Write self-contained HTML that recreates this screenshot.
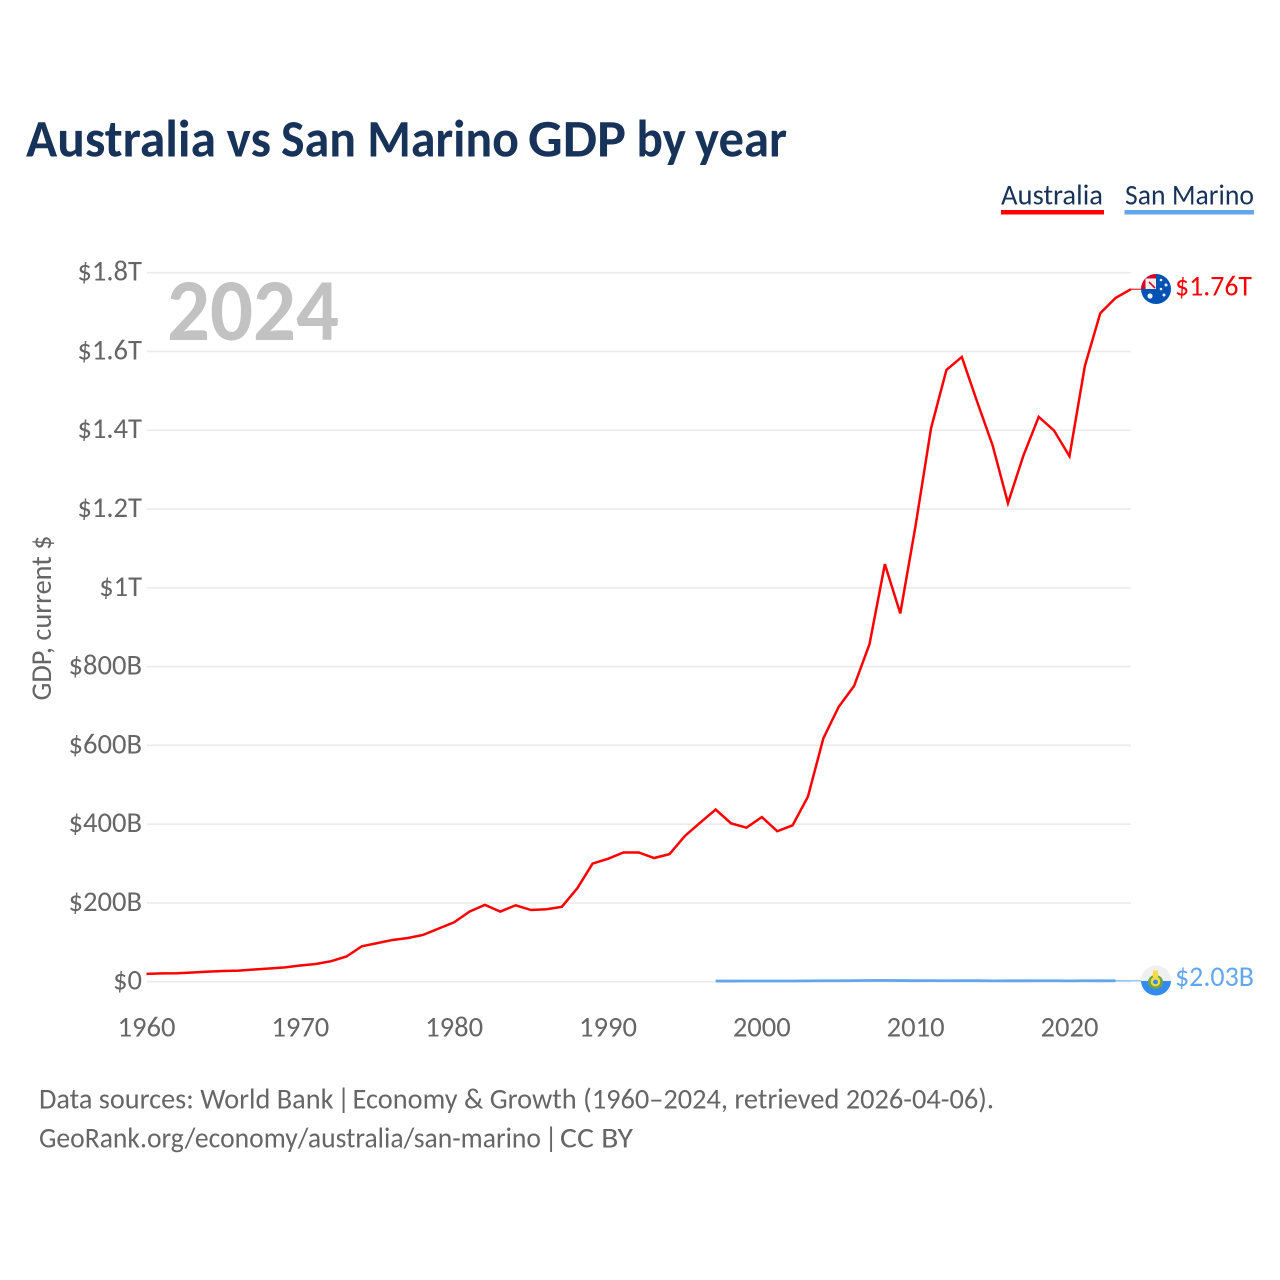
<!DOCTYPE html>
<html lang="en">
<head>
<meta charset="utf-8">
<title>Australia vs San Marino GDP by year</title>
<style>
  html, body { margin: 0; padding: 0; background: #fff; }
  svg { display: block; }
  text { font-family: "Carlito", "Lato", "Liberation Sans", sans-serif; }
</style>
</head>
<body>
<svg id="chart" xmlns="http://www.w3.org/2000/svg" width="1280" height="1280" viewBox="0 0 1280 1280">
  <defs>
    <clipPath id="flag-au-clip"><circle cx="1156" cy="289" r="15"/></clipPath>
    <clipPath id="flag-sm-clip"><circle cx="1156" cy="980.5" r="15"/></clipPath>
  </defs>

  <text y="156.5" font-size="52.7" font-weight="700" fill="#18335a"><tspan x="26" textLength="190" lengthAdjust="spacingAndGlyphs">Australia</tspan> <tspan x="226.5" textLength="44.5" lengthAdjust="spacingAndGlyphs">vs</tspan> <tspan x="281" textLength="238" lengthAdjust="spacingAndGlyphs">San Marino</tspan> <tspan x="528" textLength="98" lengthAdjust="spacingAndGlyphs">GDP</tspan> <tspan x="636.5" textLength="49.5" lengthAdjust="spacingAndGlyphs">by</tspan> <tspan x="695" textLength="92" lengthAdjust="spacingAndGlyphs">year</tspan></text>

  <g>
    <g>
      <text x="1001" y="204.5" font-size="28.6" fill="#18335a" textLength="102" lengthAdjust="spacingAndGlyphs">Australia</text>
      <rect x="1001" y="210" width="103" height="4.5" fill="#ff0000"/>
    </g>
    <g>
      <text x="1125" y="204.5" font-size="28.6" fill="#18335a" textLength="129" lengthAdjust="spacingAndGlyphs">San Marino</text>
      <rect x="1124.5" y="210" width="129.5" height="4.5" fill="#62a7ec"/>
    </g>
  </g>

  <g id="grid"></g>
  <g id="y-ticks"></g>
  <g id="x-ticks"></g>

  <text x="167" y="340" font-size="88" font-weight="700" fill="#c2c2c2" textLength="172" lengthAdjust="spacingAndGlyphs">2024</text>

  <text transform="translate(51,618) rotate(-90)" text-anchor="middle" font-size="28.6" fill="#666666" textLength="165" lengthAdjust="spacingAndGlyphs">GDP, current $</text>

  <g id="series"></g>

  <g clip-path="url(#flag-au-clip)">
    <rect x="1141" y="274" width="30" height="30" fill="#0052b4"/>
    <rect x="1141" y="274" width="15" height="15" fill="#f0f0f0"/>
    <path d="M1141 274h15v4.5h-10.5v10.5h-4.5z" fill="#d80027"/>
    <path d="M1149 282l6 6" stroke="#d80027" stroke-width="1.6" fill="none"/>
    <circle cx="1150" cy="296" r="2.6" fill="#f0f0f0"/>
    <circle cx="1161" cy="280" r="1.3" fill="#f0f0f0"/>
    <circle cx="1166" cy="285" r="1.5" fill="#f0f0f0"/>
    <circle cx="1161" cy="289" r="1.3" fill="#f0f0f0"/>
    <circle cx="1164" cy="295" r="1.5" fill="#f0f0f0"/>
  </g>
  <g clip-path="url(#flag-sm-clip)">
    <rect x="1141" y="965" width="30" height="16" fill="#f0f0f0"/>
    <rect x="1141" y="981" width="30" height="16" fill="#338af3"/>
    <ellipse cx="1155.5" cy="982" rx="7.5" ry="7" fill="#6da544"/>
    <ellipse cx="1155.5" cy="981.5" rx="4.8" ry="5" fill="#ffda44"/>
    <circle cx="1155.5" cy="982" r="2.4" fill="#338af3"/>
    <rect x="1153" y="970.5" width="5" height="6.5" fill="#ffda44"/>
  </g>

  <text id="label-au" x="1175" y="295.5" font-size="28.6" fill="#ff0000" textLength="77" lengthAdjust="spacingAndGlyphs"></text>
  <text id="label-sm" x="1175" y="986" font-size="28.6" fill="#62a7ec" textLength="79" lengthAdjust="spacingAndGlyphs"></text>

  <g>
    <text y="1108.5" font-size="28.6" fill="#666666"><tspan x="39" textLength="294.5" lengthAdjust="spacingAndGlyphs">Data sources: World Bank</tspan> <tspan x="337">|</tspan> <tspan x="352.5" textLength="641.5" lengthAdjust="spacingAndGlyphs">Economy &amp; Growth (1960–2024, retrieved 2026-04-06).</tspan></text>
    <text y="1147.5" font-size="28.6" fill="#666666"><tspan x="39" textLength="502" lengthAdjust="spacingAndGlyphs">GeoRank.org/economy/australia/san-marino</tspan> <tspan x="544.5">|</tspan> <tspan x="560" textLength="73" lengthAdjust="spacingAndGlyphs">CC BY</tspan></text>
  </g>
</svg>

<script>
const australiaYears = [1960,1961,1962,1963,1964,1965,1966,1967,1968,1969,1970,1971,1972,1973,1974,1975,1976,1977,1978,1979,1980,1981,1982,1983,1984,1985,1986,1987,1988,1989,1990,1991,1992,1993,1994,1995,1996,1997,1998,1999,2000,2001,2002,2003,2004,2005,2006,2007,2008,2009,2010,2011,2012,2013,2014,2015,2016,2017,2018,2019,2020,2021,2022,2023,2024];
const australiaGdpBillions = [20,21,21.5,23.5,25.5,27,28,31,33.5,36.5,41,45,52,64,90,98,106,111,119,135,151,178,195,178,194,182,184,190,237,300,312,328,328,314,324,370,404,437,402,391,418,382,397,470,618,698,751,857,1060,935,1159,1405,1553,1586,1472,1362,1215,1335,1434,1399,1334,1563,1697,1736,1758];
const sanMarinoYears = [1997,1998,1999,2000,2001,2002,2003,2004,2005,2006,2007,2008,2009,2010,2011,2012,2013,2014,2015,2016,2017,2018,2019,2020,2021,2022,2023,2024];
const sanMarinoGdpBillions = [1.6,1.6,1.7,1.7,1.8,1.8,2.0,2.4,2.5,2.7,3.0,3.2,2.9,2.6,2.7,2.5,2.6,2.6,2.1,2.2,2.2,2.5,2.5,2.1,2.4,2.3,2.4,2.03];
const yTickValues = [0,200,400,600,800,1000,1200,1400,1600,1800];
const yTickLabels = ["$0","$200B","$400B","$600B","$800B","$1T","$1.2T","$1.4T","$1.6T","$1.8T"];
const xTickYears = [1960,1970,1980,1990,2000,2010,2020];
const endLabelAustralia = "$1.76T";
const endLabelSanMarino = "$2.03B";

const NS = "http://www.w3.org/2000/svg";
function xScale(year) { return 146.5 + (year - 1960) * 15.383; }
function yScale(billions) { return 981.7 - billions * 0.3939; }
function make(tag, attrs, parent) {
  const el = document.createElementNS(NS, tag);
  for (const k in attrs) el.setAttribute(k, attrs[k]);
  parent.appendChild(el);
  return el;
}
function pointsOf(years, values) {
  return years.map(function (yr, i) { return xScale(yr).toFixed(2) + "," + yScale(values[i]).toFixed(2); }).join(" ");
}

const grid = document.getElementById("grid");
const yTicks = document.getElementById("y-ticks");
yTickValues.forEach(function (v, i) {
  const line = make("line", { x1: 147, x2: 1131, y1: yScale(v), y2: yScale(v), stroke: "#ebebeb", "stroke-width": 1.6 }, grid);
  
  
  const t = make("text", { x: 142, y: yScale(v) + 8, "text-anchor": "end", "font-size": 28.6, fill: "#666666" }, yTicks);
  
  
  t.textContent = yTickLabels[i];
});

const xTicks = document.getElementById("x-ticks");
xTickYears.forEach(function (yr) {
  const t = make("text", { x: xScale(yr), y: 1036.5, "text-anchor": "middle", "font-size": 28.6, fill: "#666666" }, xTicks);
  
  
  t.textContent = String(yr);
});

const series = document.getElementById("series");

const auLast = australiaGdpBillions.length - 1;
const auLeader = make("line", { x1: xScale(australiaYears[auLast]), y1: yScale(australiaGdpBillions[auLast]), x2: 1141, y2: yScale(australiaGdpBillions[auLast]), stroke: "#ff0000", "stroke-width": 1 }, series);


const auLine = make("polyline", { points: pointsOf(australiaYears, australiaGdpBillions), fill: "none", stroke: "#ff0000", "stroke-width": 2.5, "stroke-linejoin": "miter" }, series);



const smLast = sanMarinoGdpBillions.length - 1;
const smLeader = make("polyline", { points: xScale(sanMarinoYears[smLast - 1]).toFixed(2) + "," + yScale(sanMarinoGdpBillions[smLast - 1]).toFixed(2) + " " + xScale(sanMarinoYears[smLast]).toFixed(2) + "," + yScale(sanMarinoGdpBillions[smLast]).toFixed(2) + " 1141," + yScale(sanMarinoGdpBillions[smLast]).toFixed(2), fill: "none", stroke: "#62a7ec", "stroke-width": 1 }, series);


const smLine = make("polyline", { points: pointsOf(sanMarinoYears.slice(0, smLast), sanMarinoGdpBillions.slice(0, smLast)), fill: "none", stroke: "#62a7ec", "stroke-width": 2.8 }, series);



document.getElementById("label-au").textContent = endLabelAustralia;
document.getElementById("label-sm").textContent = endLabelSanMarino;
</script>
</body>
</html>
